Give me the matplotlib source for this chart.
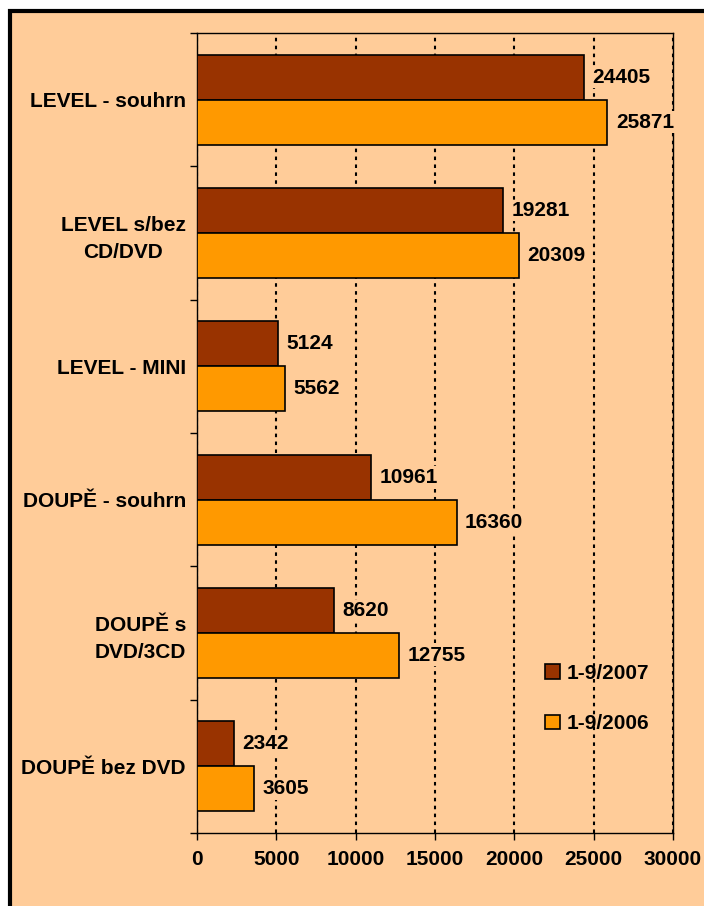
import matplotlib
matplotlib.use("Agg")
import matplotlib.pyplot as plt
from matplotlib.patches import Rectangle
import numpy as np

plt.rcParams['font.family'] = ['Liberation Sans', 'DejaVu Sans']
plt.rcParams['font.weight'] = 'bold'

categories = ["LEVEL - souhrn", "LEVEL s/bez\nCD/DVD", "LEVEL - MINI",
              "DOUPĚ - souhrn", "DOUPĚ s\nDVD/3CD", "DOUPĚ bez DVD"]
values_2007 = [24405, 19281, 5124, 10961, 8620, 2342]
values_2006 = [25871, 20309, 5562, 16360, 12755, 3605]
series_names = ["1-9/2007", "1-9/2006"]
x_ticks = [0, 5000, 10000, 15000, 20000, 25000, 30000]

brown = '#993300'
orange = '#FF9900'
peach = '#FFCC99'
fs = 15

W, H = 704, 906
fig = plt.figure(figsize=(W / 100, H / 100), dpi=100, facecolor='white')

# peach chart area with thick black frame (right/bottom run off the image)
fig.add_artist(Rectangle((10 / W, -0.05), 1.2, 1 - 11 / H + 0.05,
                         transform=fig.transFigure, facecolor=peach,
                         edgecolor='black', linewidth=3, zorder=0))

ax = fig.add_axes([197 / W, 1 - 833 / H, (673 - 197) / W, (833 - 33) / H])
ax.set_facecolor(peach)

y = np.arange(len(categories))
h = 0.3375
b1 = ax.barh(y - h / 2, values_2007, height=h, color=brown, edgecolor='black',
             linewidth=1.2, label=series_names[0], zorder=3)
b2 = ax.barh(y + h / 2, values_2006, height=h, color=orange, edgecolor='black',
             linewidth=1.2, label=series_names[1], zorder=3)
label_box = dict(facecolor=peach, edgecolor='none', pad=1)
for bars in (b1, b2):
    for t in ax.bar_label(bars, padding=6, fontsize=fs, fontweight='bold'):
        t.set_bbox(label_box)

ax.set_xlim(0, 30000)
ax.set_ylim(len(categories) - 0.5, -0.5)
ax.set_xticks(x_ticks)
ax.set_xticklabels([str(t) for t in x_ticks], fontsize=fs, fontweight='bold')
ax.set_yticks(y)
ax.set_yticklabels(categories, fontsize=fs, fontweight='bold',
                   multialignment='center', linespacing=1.55)
ax.tick_params(axis='y', length=0, pad=8)
ax.tick_params(axis='x', length=5, width=1, pad=7, direction='out')
ax.set_yticks(np.arange(len(categories) + 1) - 0.5, minor=True)
ax.tick_params(axis='y', which='minor', length=5, width=1, direction='out')

ax.set_axisbelow(True)
ax.grid(axis='x', color='black', linestyle=(0, (1.7, 2.1)), linewidth=1.5)
for s in ax.spines.values():
    s.set_linewidth(1)
    s.set_color('black')

ax.legend(loc='upper left', bbox_to_anchor=(545 / W, 1 - 664 / H),
          bbox_transform=fig.transFigure, frameon=False, fontsize=fs,
          handlelength=0.72, handleheight=0.72, handletextpad=0.3,
          labelspacing=1.5, borderpad=0, borderaxespad=0)

fig.savefig('out.png', dpi=100, facecolor='white')
